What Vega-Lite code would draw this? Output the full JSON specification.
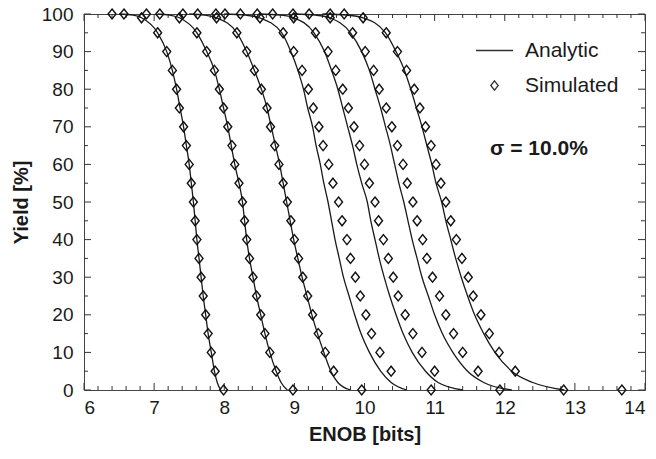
{
  "$schema": "https://vega.github.io/schema/vega-lite/v6.json",
  "autosize": {"type": "none"},
  "width": 561,
  "height": 376,
  "padding": {"left": 84, "top": 14, "right": 11, "bottom": 69},
  "background": "white",
  "config": {
    "font": "Liberation Sans",
    "view": {"stroke": "#444", "strokeWidth": 1},
    "axis": {"domain": false, "ticks": false, "grid": false, "labelColor": "#1a1a1a", "titleColor": "#1a1a1a", "labelFont": "Liberation Sans", "titleFont": "Liberation Sans", "labelFontSize": 19, "titleFontSize": 20, "titleFontWeight": "bold", "labelOverlap": false},
    "rule": {"color": "#333", "strokeWidth": 1}
  },
  "datasets": {
    "analytic": [
      {"curve":"8","enob":6.5,"yield":100},{"curve":"8","enob":6.7,"yield":99.7},{"curve":"8","enob":6.82,"yield":99},{"curve":"8","enob":7.05,"yield":95},{"curve":"8","enob":7.18,"yield":90},{"curve":"8","enob":7.26,"yield":85},{"curve":"8","enob":7.32,"yield":80},{"curve":"8","enob":7.37,"yield":75},{"curve":"8","enob":7.42,"yield":70},{"curve":"8","enob":7.46,"yield":65},{"curve":"8","enob":7.5,"yield":60},{"curve":"8","enob":7.53,"yield":55},{"curve":"8","enob":7.56,"yield":50},{"curve":"8","enob":7.585,"yield":45},{"curve":"8","enob":7.61,"yield":40},{"curve":"8","enob":7.64,"yield":35},{"curve":"8","enob":7.67,"yield":30},{"curve":"8","enob":7.7,"yield":25},{"curve":"8","enob":7.735,"yield":20},{"curve":"8","enob":7.77,"yield":15},{"curve":"8","enob":7.815,"yield":10},{"curve":"8","enob":7.86,"yield":5},{"curve":"8","enob":7.9,"yield":2},{"curve":"8","enob":7.95,"yield":0},
      {"curve":"9","enob":7.05,"yield":100},{"curve":"9","enob":7.22,"yield":99.7},{"curve":"9","enob":7.36,"yield":99},{"curve":"9","enob":7.61,"yield":95},{"curve":"9","enob":7.75,"yield":90},{"curve":"9","enob":7.86,"yield":85},{"curve":"9","enob":7.93,"yield":80},{"curve":"9","enob":7.99,"yield":75},{"curve":"9","enob":8.05,"yield":70},{"curve":"9","enob":8.1,"yield":65},{"curve":"9","enob":8.15,"yield":60},{"curve":"9","enob":8.21,"yield":55},{"curve":"9","enob":8.26,"yield":50},{"curve":"9","enob":8.29,"yield":45},{"curve":"9","enob":8.32,"yield":40},{"curve":"9","enob":8.36,"yield":35},{"curve":"9","enob":8.41,"yield":30},{"curve":"9","enob":8.46,"yield":25},{"curve":"9","enob":8.52,"yield":20},{"curve":"9","enob":8.58,"yield":15},{"curve":"9","enob":8.65,"yield":10},{"curve":"9","enob":8.74,"yield":5},{"curve":"9","enob":8.81,"yield":2},{"curve":"9","enob":8.9,"yield":0},
      {"curve":"10","enob":7.5,"yield":100},{"curve":"10","enob":7.72,"yield":99.7},{"curve":"10","enob":7.89,"yield":99},{"curve":"10","enob":8.18,"yield":95},{"curve":"10","enob":8.32,"yield":90},{"curve":"10","enob":8.43,"yield":85},{"curve":"10","enob":8.53,"yield":80},{"curve":"10","enob":8.61,"yield":75},{"curve":"10","enob":8.67,"yield":70},{"curve":"10","enob":8.73,"yield":65},{"curve":"10","enob":8.79,"yield":60},{"curve":"10","enob":8.84,"yield":55},{"curve":"10","enob":8.89,"yield":50},{"curve":"10","enob":8.94,"yield":45},{"curve":"10","enob":8.99,"yield":40},{"curve":"10","enob":9.05,"yield":35},{"curve":"10","enob":9.11,"yield":30},{"curve":"10","enob":9.18,"yield":25},{"curve":"10","enob":9.25,"yield":20},{"curve":"10","enob":9.33,"yield":15},{"curve":"10","enob":9.42,"yield":10},{"curve":"10","enob":9.52,"yield":5},{"curve":"10","enob":9.62,"yield":2},{"curve":"10","enob":9.8,"yield":0},
      {"curve":"11","enob":8.0,"yield":100},{"curve":"11","enob":8.3,"yield":99.7},{"curve":"11","enob":8.5,"yield":99},{"curve":"11","enob":8.82,"yield":95},{"curve":"11","enob":8.95,"yield":90},{"curve":"11","enob":9.05,"yield":85},{"curve":"11","enob":9.13,"yield":80},{"curve":"11","enob":9.19,"yield":75},{"curve":"11","enob":9.26,"yield":70},{"curve":"11","enob":9.31,"yield":65},{"curve":"11","enob":9.37,"yield":60},{"curve":"11","enob":9.42,"yield":55},{"curve":"11","enob":9.48,"yield":50},{"curve":"11","enob":9.53,"yield":45},{"curve":"11","enob":9.58,"yield":40},{"curve":"11","enob":9.64,"yield":35},{"curve":"11","enob":9.7,"yield":30},{"curve":"11","enob":9.78,"yield":25},{"curve":"11","enob":9.86,"yield":20},{"curve":"11","enob":9.95,"yield":15},{"curve":"11","enob":10.07,"yield":10},{"curve":"11","enob":10.23,"yield":5},{"curve":"11","enob":10.38,"yield":2},{"curve":"11","enob":10.6,"yield":0},
      {"curve":"12","enob":8.5,"yield":100},{"curve":"12","enob":8.8,"yield":99.7},{"curve":"12","enob":8.99,"yield":99},{"curve":"12","enob":9.28,"yield":95},{"curve":"12","enob":9.43,"yield":90},{"curve":"12","enob":9.53,"yield":85},{"curve":"12","enob":9.62,"yield":80},{"curve":"12","enob":9.69,"yield":75},{"curve":"12","enob":9.76,"yield":70},{"curve":"12","enob":9.83,"yield":65},{"curve":"12","enob":9.89,"yield":60},{"curve":"12","enob":9.96,"yield":55},{"curve":"12","enob":10.04,"yield":50},{"curve":"12","enob":10.09,"yield":45},{"curve":"12","enob":10.15,"yield":40},{"curve":"12","enob":10.21,"yield":35},{"curve":"12","enob":10.28,"yield":30},{"curve":"12","enob":10.36,"yield":25},{"curve":"12","enob":10.45,"yield":20},{"curve":"12","enob":10.55,"yield":15},{"curve":"12","enob":10.68,"yield":10},{"curve":"12","enob":10.87,"yield":5},{"curve":"12","enob":11.05,"yield":2},{"curve":"12","enob":11.4,"yield":0},
      {"curve":"13","enob":9.0,"yield":100},{"curve":"13","enob":9.3,"yield":99.7},{"curve":"13","enob":9.5,"yield":99},{"curve":"13","enob":9.8,"yield":95},{"curve":"13","enob":9.96,"yield":90},{"curve":"13","enob":10.07,"yield":85},{"curve":"13","enob":10.15,"yield":80},{"curve":"13","enob":10.23,"yield":75},{"curve":"13","enob":10.3,"yield":70},{"curve":"13","enob":10.37,"yield":65},{"curve":"13","enob":10.43,"yield":60},{"curve":"13","enob":10.49,"yield":55},{"curve":"13","enob":10.56,"yield":50},{"curve":"13","enob":10.62,"yield":45},{"curve":"13","enob":10.68,"yield":40},{"curve":"13","enob":10.75,"yield":35},{"curve":"13","enob":10.82,"yield":30},{"curve":"13","enob":10.91,"yield":25},{"curve":"13","enob":11.0,"yield":20},{"curve":"13","enob":11.11,"yield":15},{"curve":"13","enob":11.26,"yield":10},{"curve":"13","enob":11.47,"yield":5},{"curve":"13","enob":11.7,"yield":2},{"curve":"13","enob":12.1,"yield":0},
      {"curve":"14","enob":9.4,"yield":100},{"curve":"14","enob":9.75,"yield":99.7},{"curve":"14","enob":9.98,"yield":99},{"curve":"14","enob":10.3,"yield":95},{"curve":"14","enob":10.45,"yield":90},{"curve":"14","enob":10.57,"yield":85},{"curve":"14","enob":10.66,"yield":80},{"curve":"14","enob":10.74,"yield":75},{"curve":"14","enob":10.82,"yield":70},{"curve":"14","enob":10.89,"yield":65},{"curve":"14","enob":10.96,"yield":60},{"curve":"14","enob":11.02,"yield":55},{"curve":"14","enob":11.1,"yield":50},{"curve":"14","enob":11.16,"yield":45},{"curve":"14","enob":11.23,"yield":40},{"curve":"14","enob":11.3,"yield":35},{"curve":"14","enob":11.38,"yield":30},{"curve":"14","enob":11.47,"yield":25},{"curve":"14","enob":11.57,"yield":20},{"curve":"14","enob":11.7,"yield":15},{"curve":"14","enob":11.86,"yield":10},{"curve":"14","enob":12.1,"yield":5},{"curve":"14","enob":12.4,"yield":2},{"curve":"14","enob":12.85,"yield":0}
    ],
    "simulated": [
      {"curve":"8","enob":6.4,"yield":100},{"curve":"8","enob":6.57,"yield":100},{"curve":"8","enob":6.82,"yield":99},{"curve":"8","enob":7.05,"yield":95},{"curve":"8","enob":7.18,"yield":90},{"curve":"8","enob":7.26,"yield":85},{"curve":"8","enob":7.32,"yield":80},{"curve":"8","enob":7.36,"yield":75},{"curve":"8","enob":7.42,"yield":70},{"curve":"8","enob":7.46,"yield":65},{"curve":"8","enob":7.5,"yield":60},{"curve":"8","enob":7.53,"yield":55},{"curve":"8","enob":7.56,"yield":50},{"curve":"8","enob":7.585,"yield":45},{"curve":"8","enob":7.61,"yield":40},{"curve":"8","enob":7.64,"yield":35},{"curve":"8","enob":7.67,"yield":30},{"curve":"8","enob":7.7,"yield":25},{"curve":"8","enob":7.735,"yield":20},{"curve":"8","enob":7.77,"yield":15},{"curve":"8","enob":7.815,"yield":10},{"curve":"8","enob":7.87,"yield":5},{"curve":"8","enob":7.99,"yield":0},
      {"curve":"9","enob":6.89,"yield":100},{"curve":"9","enob":7.08,"yield":100},{"curve":"9","enob":7.36,"yield":99},{"curve":"9","enob":7.61,"yield":95},{"curve":"9","enob":7.75,"yield":90},{"curve":"9","enob":7.86,"yield":85},{"curve":"9","enob":7.93,"yield":80},{"curve":"9","enob":7.99,"yield":75},{"curve":"9","enob":8.05,"yield":70},{"curve":"9","enob":8.11,"yield":65},{"curve":"9","enob":8.15,"yield":60},{"curve":"9","enob":8.21,"yield":55},{"curve":"9","enob":8.26,"yield":50},{"curve":"9","enob":8.29,"yield":45},{"curve":"9","enob":8.32,"yield":40},{"curve":"9","enob":8.36,"yield":35},{"curve":"9","enob":8.41,"yield":30},{"curve":"9","enob":8.46,"yield":25},{"curve":"9","enob":8.52,"yield":20},{"curve":"9","enob":8.58,"yield":15},{"curve":"9","enob":8.65,"yield":10},{"curve":"9","enob":8.74,"yield":5},{"curve":"9","enob":8.98,"yield":0},
      {"curve":"10","enob":7.41,"yield":100},{"curve":"10","enob":7.62,"yield":100},{"curve":"10","enob":7.89,"yield":99},{"curve":"10","enob":8.18,"yield":95},{"curve":"10","enob":8.32,"yield":90},{"curve":"10","enob":8.43,"yield":85},{"curve":"10","enob":8.53,"yield":80},{"curve":"10","enob":8.61,"yield":75},{"curve":"10","enob":8.66,"yield":70},{"curve":"10","enob":8.72,"yield":65},{"curve":"10","enob":8.78,"yield":60},{"curve":"10","enob":8.84,"yield":55},{"curve":"10","enob":8.9,"yield":50},{"curve":"10","enob":8.95,"yield":45},{"curve":"10","enob":9.0,"yield":40},{"curve":"10","enob":9.06,"yield":35},{"curve":"10","enob":9.12,"yield":30},{"curve":"10","enob":9.19,"yield":25},{"curve":"10","enob":9.26,"yield":20},{"curve":"10","enob":9.34,"yield":15},{"curve":"10","enob":9.44,"yield":10},{"curve":"10","enob":9.56,"yield":5},{"curve":"10","enob":9.96,"yield":0},
      {"curve":"11","enob":7.88,"yield":100},{"curve":"11","enob":8.01,"yield":100},{"curve":"11","enob":8.51,"yield":99},{"curve":"11","enob":8.84,"yield":95},{"curve":"11","enob":8.99,"yield":90},{"curve":"11","enob":9.11,"yield":85},{"curve":"11","enob":9.2,"yield":80},{"curve":"11","enob":9.27,"yield":75},{"curve":"11","enob":9.35,"yield":70},{"curve":"11","enob":9.41,"yield":65},{"curve":"11","enob":9.49,"yield":60},{"curve":"11","enob":9.55,"yield":55},{"curve":"11","enob":9.63,"yield":50},{"curve":"11","enob":9.68,"yield":45},{"curve":"11","enob":9.75,"yield":40},{"curve":"11","enob":9.8,"yield":35},{"curve":"11","enob":9.87,"yield":30},{"curve":"11","enob":9.94,"yield":25},{"curve":"11","enob":10.02,"yield":20},{"curve":"11","enob":10.1,"yield":15},{"curve":"11","enob":10.22,"yield":10},{"curve":"11","enob":10.38,"yield":5},{"curve":"11","enob":10.95,"yield":0},
      {"curve":"12","enob":8.23,"yield":100},{"curve":"12","enob":8.47,"yield":100},{"curve":"12","enob":8.99,"yield":99},{"curve":"12","enob":9.3,"yield":95},{"curve":"12","enob":9.48,"yield":90},{"curve":"12","enob":9.59,"yield":85},{"curve":"12","enob":9.69,"yield":80},{"curve":"12","enob":9.77,"yield":75},{"curve":"12","enob":9.85,"yield":70},{"curve":"12","enob":9.93,"yield":65},{"curve":"12","enob":10.0,"yield":60},{"curve":"12","enob":10.07,"yield":55},{"curve":"12","enob":10.15,"yield":50},{"curve":"12","enob":10.2,"yield":45},{"curve":"12","enob":10.27,"yield":40},{"curve":"12","enob":10.34,"yield":35},{"curve":"12","enob":10.41,"yield":30},{"curve":"12","enob":10.48,"yield":25},{"curve":"12","enob":10.58,"yield":20},{"curve":"12","enob":10.69,"yield":15},{"curve":"12","enob":10.82,"yield":10},{"curve":"12","enob":11.0,"yield":5},{"curve":"12","enob":11.93,"yield":0},
      {"curve":"13","enob":8.69,"yield":100},{"curve":"13","enob":8.98,"yield":100},{"curve":"13","enob":9.51,"yield":99},{"curve":"13","enob":9.83,"yield":95},{"curve":"13","enob":10.01,"yield":90},{"curve":"13","enob":10.13,"yield":85},{"curve":"13","enob":10.21,"yield":80},{"curve":"13","enob":10.31,"yield":75},{"curve":"13","enob":10.39,"yield":70},{"curve":"13","enob":10.47,"yield":65},{"curve":"13","enob":10.55,"yield":60},{"curve":"13","enob":10.61,"yield":55},{"curve":"13","enob":10.69,"yield":50},{"curve":"13","enob":10.75,"yield":45},{"curve":"13","enob":10.83,"yield":40},{"curve":"13","enob":10.89,"yield":35},{"curve":"13","enob":10.97,"yield":30},{"curve":"13","enob":11.07,"yield":25},{"curve":"13","enob":11.16,"yield":20},{"curve":"13","enob":11.27,"yield":15},{"curve":"13","enob":11.4,"yield":10},{"curve":"13","enob":11.62,"yield":5},{"curve":"13","enob":12.84,"yield":0},
      {"curve":"14","enob":9.21,"yield":100},{"curve":"14","enob":9.51,"yield":100},{"curve":"14","enob":9.71,"yield":100},{"curve":"14","enob":9.98,"yield":99},{"curve":"14","enob":10.31,"yield":95},{"curve":"14","enob":10.47,"yield":90},{"curve":"14","enob":10.6,"yield":85},{"curve":"14","enob":10.71,"yield":80},{"curve":"14","enob":10.79,"yield":75},{"curve":"14","enob":10.87,"yield":70},{"curve":"14","enob":10.95,"yield":65},{"curve":"14","enob":11.02,"yield":60},{"curve":"14","enob":11.09,"yield":55},{"curve":"14","enob":11.16,"yield":50},{"curve":"14","enob":11.23,"yield":45},{"curve":"14","enob":11.31,"yield":40},{"curve":"14","enob":11.39,"yield":35},{"curve":"14","enob":11.48,"yield":30},{"curve":"14","enob":11.55,"yield":25},{"curve":"14","enob":11.66,"yield":20},{"curve":"14","enob":11.78,"yield":15},{"curve":"14","enob":11.92,"yield":10},{"curve":"14","enob":12.15,"yield":5},{"curve":"14","enob":13.67,"yield":0}
    ],
    "xticks": [
      {"v":6,"major":true},{"v":6.2,"major":false},{"v":6.4,"major":false},{"v":6.6,"major":false},{"v":6.8,"major":false},
      {"v":7,"major":true},{"v":7.2,"major":false},{"v":7.4,"major":false},{"v":7.6,"major":false},{"v":7.8,"major":false},
      {"v":8,"major":true},{"v":8.2,"major":false},{"v":8.4,"major":false},{"v":8.6,"major":false},{"v":8.8,"major":false},
      {"v":9,"major":true},{"v":9.2,"major":false},{"v":9.4,"major":false},{"v":9.6,"major":false},{"v":9.8,"major":false},
      {"v":10,"major":true},{"v":10.2,"major":false},{"v":10.4,"major":false},{"v":10.6,"major":false},{"v":10.8,"major":false},
      {"v":11,"major":true},{"v":11.2,"major":false},{"v":11.4,"major":false},{"v":11.6,"major":false},{"v":11.8,"major":false},
      {"v":12,"major":true},{"v":12.2,"major":false},{"v":12.4,"major":false},{"v":12.6,"major":false},{"v":12.8,"major":false},
      {"v":13,"major":true},{"v":13.2,"major":false},{"v":13.4,"major":false},{"v":13.6,"major":false},{"v":13.8,"major":false},
      {"v":14,"major":true}
    ],
    "yticks": [
      {"v":0,"major":true},{"v":5,"major":false},{"v":10,"major":true},{"v":15,"major":false},{"v":20,"major":true},{"v":25,"major":false},{"v":30,"major":true},{"v":35,"major":false},{"v":40,"major":true},{"v":45,"major":false},{"v":50,"major":true},{"v":55,"major":false},{"v":60,"major":true},{"v":65,"major":false},{"v":70,"major":true},{"v":75,"major":false},{"v":80,"major":true},{"v":85,"major":false},{"v":90,"major":true},{"v":95,"major":false},{"v":100,"major":true}
    ],
    "note": [{"enob": 11.79, "yield": 64.0, "label": "σ = 10.0%"}]
  },
  "resolve": {"axis": {"x": "independent", "y": "independent"}},
  "layer": [
    {
      "data": {"name": "xticks"}, "transform": [{"filter": "datum.major"}],
      "mark": {"type": "rule"},
      "encoding": {"x": {"field": "v", "type": "quantitative", "scale": {"domain": [6, 14], "nice": false, "zero": false}, "axis": null}, "y": {"datum": 0, "scale": {"domain": [0, 100], "nice": false}, "axis": null}, "y2": {"datum": 1.86}}
    },
    {
      "data": {"name": "xticks"}, "transform": [{"filter": "datum.major"}],
      "mark": {"type": "rule"},
      "encoding": {"x": {"field": "v", "type": "quantitative", "axis": null}, "y": {"datum": 100, "axis": null}, "y2": {"datum": 98.14}}
    },
    {
      "data": {"name": "xticks"}, "transform": [{"filter": "!datum.major"}],
      "mark": {"type": "rule"},
      "encoding": {"x": {"field": "v", "type": "quantitative", "axis": null}, "y": {"datum": 0, "axis": null}, "y2": {"datum": 1.06}}
    },
    {
      "data": {"name": "xticks"}, "transform": [{"filter": "!datum.major"}],
      "mark": {"type": "rule"},
      "encoding": {"x": {"field": "v", "type": "quantitative", "axis": null}, "y": {"datum": 100, "axis": null}, "y2": {"datum": 98.94}}
    },
    {
      "data": {"name": "yticks"}, "transform": [{"filter": "datum.major"}],
      "mark": {"type": "rule"},
      "encoding": {"y": {"field": "v", "type": "quantitative", "axis": null}, "x": {"datum": 6, "axis": null}, "x2": {"datum": 6.1}}
    },
    {
      "data": {"name": "yticks"}, "transform": [{"filter": "datum.major"}],
      "mark": {"type": "rule"},
      "encoding": {"y": {"field": "v", "type": "quantitative", "axis": null}, "x": {"datum": 14, "axis": null}, "x2": {"datum": 13.9}}
    },
    {
      "data": {"name": "yticks"}, "transform": [{"filter": "!datum.major"}],
      "mark": {"type": "rule"},
      "encoding": {"y": {"field": "v", "type": "quantitative", "axis": null}, "x": {"datum": 6, "axis": null}, "x2": {"datum": 6.057}}
    },
    {
      "data": {"name": "yticks"}, "transform": [{"filter": "!datum.major"}],
      "mark": {"type": "rule"},
      "encoding": {"y": {"field": "v", "type": "quantitative", "axis": null}, "x": {"datum": 14, "axis": null}, "x2": {"datum": 13.943}}
    },
    {
      "data": {"name": "analytic"},
      "mark": {"type": "line", "interpolate": "monotone", "color": "#1a1a1a", "strokeWidth": 1.3},
      "encoding": {
        "x": {"field": "enob", "type": "quantitative", "scale": {"domain": [6, 14], "nice": false, "zero": false},
          "axis": {"orient": "bottom", "title": "ENOB [bits]", "values": [6,7,8,9,10,11,12,13,14], "format": "d", "labelPadding": 8, "titlePadding": 7}},
        "y": {"field": "yield", "type": "quantitative", "scale": {"domain": [0, 100], "nice": false},
          "axis": {"orient": "left", "title": "Yield [%]", "values": [0,10,20,30,40,50,60,70,80,90,100], "format": "d", "labelPadding": 11, "titlePadding": 10}},
        "detail": {"field": "curve", "type": "nominal"}
      }
    },
    {
      "data": {"name": "simulated"},
      "transform": [{"calculate": "'Simulated'", "as": "kind"}],
      "mark": {"type": "point", "filled": false, "color": "#111", "size": 64, "strokeWidth": 1.4, "opacity": 1},
      "encoding": {
        "x": {"field": "enob", "type": "quantitative", "axis": null},
        "y": {"field": "yield", "type": "quantitative", "axis": null},
        "shape": {"field": "kind", "type": "nominal", "scale": {"domain": ["Analytic", "Simulated"], "range": ["M-5,0H5", "M0,-1.25L1,0L0,1.25L-1,0Z"]},
          "legend": {"title": null, "orient": "top-right", "offset": 26, "labelFontSize": 21, "labelFont": "Liberation Sans", "labelColor": "#1a1a1a", "symbolSize": 55, "symbolStrokeWidth": 1.3, "symbolStrokeColor": "#333", "symbolFillColor": "transparent", "labelOffset": 20, "rowPadding": 13}}
      }
    },
    {
      "data": {"name": "note"},
      "mark": {"type": "text", "align": "left", "baseline": "middle", "fontSize": 21, "fontWeight": "bold", "font": "Liberation Sans", "color": "#1a1a1a"},
      "encoding": {
        "x": {"field": "enob", "type": "quantitative", "axis": null},
        "y": {"field": "yield", "type": "quantitative", "axis": null},
        "text": {"field": "label"}
      }
    }
  ]
}
